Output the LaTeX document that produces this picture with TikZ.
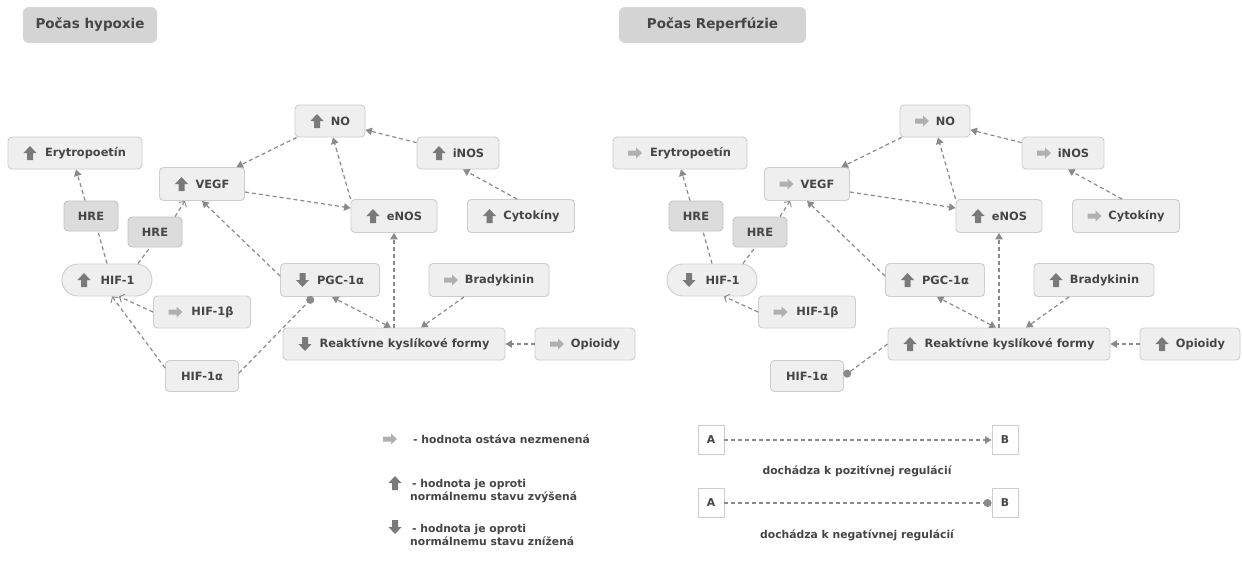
\documentclass[tikz,border=0pt]{standalone}
\usepackage{fontspec}
\setmainfont{DejaVu Sans}
\usetikzlibrary{arrows.meta,calc}
\definecolor{boxfill}{HTML}{EFEFEF}
\definecolor{boxline}{HTML}{CDCDCD}
\definecolor{hrefill}{HTML}{DCDCDC}
\definecolor{hreline}{HTML}{C4C4C4}
\definecolor{titlefill}{HTML}{D4D4D4}
\definecolor{txt}{HTML}{454545}
\definecolor{edgecol}{HTML}{8A8A8A}
\definecolor{icdark}{HTML}{7A7A7A}
\definecolor{iclight}{HTML}{B0B0B0}
\tikzset{
  upic/.pic={\fill[icdark, sharp corners] (0,-7) -- (6.5,0) -- (3,0) -- (3,7) -- (-3,7) -- (-3,0) -- (-6.5,0) -- cycle;},
  dnic/.pic={\fill[icdark, sharp corners] (0,7) -- (6.5,0) -- (3,0) -- (3,-7) -- (-3,-7) -- (-3,0) -- (-6.5,0) -- cycle;},
  rtic/.pic={\fill[iclight, sharp corners] (7,0) -- (1,-5.5) -- (1,-2.5) -- (-7,-2.5) -- (-7,2.5) -- (1,2.5) -- (1,5.5) -- cycle;},
  box/.style={draw=boxline, fill=boxfill, line width=0.9pt, rounded corners=4pt,
    minimum height=32pt, inner xsep=6pt, text=txt,
    font=\bfseries\fontsize{11.4}{13}\selectfont},
  ibox/.style={box, execute at begin node={\hspace*{21pt}}},
  iup/.style={ibox, path picture={\pic at ($(path picture bounding box.west)+(22,0)$) {upic};}},
  idn/.style={ibox, path picture={\pic at ($(path picture bounding box.west)+(22,0)$) {dnic};}},
  irt/.style={ibox, path picture={\pic at ($(path picture bounding box.west)+(22,0)$) {rtic};}},
  hrebox/.style={box, fill=hrefill, draw=hreline, minimum height=30pt},
  titlebox/.style={draw=none, fill=titlefill, rounded corners=6pt, minimum height=36pt,
    text=txt, font=\bfseries\fontsize{13.5}{16}\selectfont},
  eplain/.style={draw=edgecol, line width=1.2pt, dash pattern=on 4pt off 3pt},
  e/.style={eplain, -{Triangle[length=6.5pt,width=7.5pt]}},
  ebi/.style={eplain, {Triangle[length=6.5pt,width=7.5pt]}-{Triangle[length=6.5pt,width=7.5pt]}},
  eopen/.style={eplain, -{Straight Barb[length=4pt,width=9pt,line width=0.9pt]}},
  eneg/.style={eplain, -{Circle[length=8pt]}},
  lbox/.style={draw=boxline, fill=white, line width=0.9pt, minimum width=26pt, minimum height=29pt,
    text=txt, font=\bfseries\fontsize{10.8}{13}\selectfont},
  ltext/.style={text=txt, font=\bfseries\fontsize{10.8}{13}\selectfont, align=left, inner sep=0pt},
}
\begin{document}
\begin{tikzpicture}[x=1pt,y=-1pt]
\useasboundingbox[fill=white] (0,0) rectangle (1242,565);

% titles
\node[titlebox, minimum width=134pt] (T1) at (90,25) {Počas hypoxie};
\node[titlebox, minimum width=187pt] (T2) at (712.5,25) {Počas Reperfúzie};

% ---------------- left diagram ----------------
\node[iup, minimum width=134pt] (L-ery) at (75,153) {Erytropoetín};
\node[iup, minimum width=70pt] (L-no) at (330,121) {NO};
\node[iup, minimum width=85pt, minimum height=33pt] (L-vegf) at (202,184) {VEGF};
\node[hrebox, minimum width=54pt] (L-hre1) at (91,216) {HRE};
\node[hrebox, minimum width=54pt] (L-hre2) at (155,232) {HRE};
\node[iup, minimum width=82pt] (L-inos) at (458,153) {iNOS};
\node[iup, minimum width=86pt, minimum height=33pt] (L-enos) at (394,216) {eNOS};
\node[iup, minimum width=107pt, minimum height=33pt] (L-cyt) at (521,216) {Cytokíny};
\node[iup, minimum width=90pt, rounded corners=16pt] (L-hif1) at (107,280) {HIF-1};
\node[idn, minimum width=99pt, minimum height=33pt] (L-pgc) at (330,280) {PGC-1α};
\node[irt, minimum width=120pt, minimum height=33pt] (L-brad) at (489,280) {Bradykinin};
\node[irt, minimum width=97pt] (L-hif1b) at (202,312) {HIF-1β};
\node[idn, minimum width=222pt] (L-rk) at (394,344) {Reaktívne kyslíkové formy};
\node[irt, minimum width=100pt] (L-opi) at (585,344) {Opioidy};
\node[box, minimum width=73pt, minimum height=31pt] (L-hif1a) at (202,376) {HIF-1α};

\draw[e] (L-no) -- (L-vegf);
\draw[e] (L-inos) -- (L-no);
\draw[e] ($(L-cyt.north)+(-4,0)$) -- ($(L-inos.south)+(5,0)$);
\draw[e] (L-enos.north west) -- ($(L-no.south)+(3,0)$);
\draw[e] ($(L-vegf.east)+(0,8)$) -- ($(L-enos.west)+(0,-8)$);
\draw[e] (L-rk.north) -- (L-enos.south);
\draw[e] ($(L-pgc.west)+(0,-4)$) -- (L-vegf.south);
\draw[ebi] ($(L-rk.north)+(-3,0)$) -- ($(L-pgc.south)+(2,0)$);
\draw[e] ($(L-brad.south)+(-25,0)$) -- ($(L-rk.north)+(27,0)$);
\draw[e] (L-opi) -- (L-rk);
\draw[eneg] ($(L-hif1a.east)+(0,-3)$) -- ($(L-pgc.south)+(-17,0)$);
\draw[eopen] ($(L-hif1a.west)+(0,-8)$) -- ($(L-hif1.south)+(5,0)$);
\draw[eopen] (L-hif1b.west) -- ($(L-hif1.south)+(12,0)$);
\draw[eplain] (L-hif1.north) -- ($(L-hre1.south)+(7,0)$);
\draw[e] ($(L-hre1.north)+(-6,0)$) -- ($(L-ery.south)+(1,0)$);
\draw[eplain] ($(L-hif1.north)+(31,0)$) -- ($(L-hre2.south)+(-5,0)$);
\draw[eopen] ($(L-hre2.north)+(20,0)$) -- ($(L-vegf.south west)+(26,0)$);

% ---------------- right diagram ----------------
\begin{scope}[shift={(605,0)}]
\node[irt, minimum width=134pt] (R-ery) at (75,153) {Erytropoetín};
\node[irt, minimum width=70pt] (R-no) at (330,121) {NO};
\node[irt, minimum width=85pt, minimum height=33pt] (R-vegf) at (202,184) {VEGF};
\node[hrebox, minimum width=54pt] (R-hre1) at (91,216) {HRE};
\node[hrebox, minimum width=54pt] (R-hre2) at (155,232) {HRE};
\node[irt, minimum width=82pt] (R-inos) at (458,153) {iNOS};
\node[iup, minimum width=86pt, minimum height=33pt] (R-enos) at (394,216) {eNOS};
\node[irt, minimum width=107pt, minimum height=33pt] (R-cyt) at (521,216) {Cytokíny};
\node[idn, minimum width=90pt, rounded corners=16pt] (R-hif1) at (107,280) {HIF-1};
\node[iup, minimum width=99pt, minimum height=33pt] (R-pgc) at (330,280) {PGC-1α};
\node[iup, minimum width=120pt, minimum height=33pt] (R-brad) at (489,280) {Bradykinin};
\node[irt, minimum width=97pt] (R-hif1b) at (202,312) {HIF-1β};
\node[iup, minimum width=222pt] (R-rk) at (394,344) {Reaktívne kyslíkové formy};
\node[iup, minimum width=100pt] (R-opi) at (585,344) {Opioidy};
\node[box, minimum width=73pt, minimum height=31pt] (R-hif1a) at (202,376) {HIF-1α};
\end{scope}

\draw[e] (R-no) -- (R-vegf);
\draw[e] (R-inos) -- (R-no);
\draw[e] ($(R-cyt.north)+(-4,0)$) -- ($(R-inos.south)+(5,0)$);
\draw[e] (R-enos.north west) -- ($(R-no.south)+(3,0)$);
\draw[e] ($(R-vegf.east)+(0,8)$) -- ($(R-enos.west)+(0,-8)$);
\draw[e] (R-rk.north) -- (R-enos.south);
\draw[e] ($(R-pgc.west)+(0,-4)$) -- (R-vegf.south);
\draw[ebi] ($(R-rk.north)+(-3,0)$) -- ($(R-pgc.south)+(2,0)$);
\draw[e] ($(R-brad.south)+(-25,0)$) -- ($(R-rk.north)+(27,0)$);
\draw[e] (R-opi) -- (R-rk);
\draw[eneg] (R-rk.west) -- (R-hif1a.east);
\draw[eopen] (R-hif1b.west) -- ($(R-hif1.south)+(12,0)$);
\draw[eplain] (R-hif1.north) -- ($(R-hre1.south)+(7,0)$);
\draw[e] ($(R-hre1.north)+(-6,0)$) -- ($(R-ery.south)+(1,0)$);
\draw[eplain] ($(R-hif1.north)+(31,0)$) -- ($(R-hre2.south)+(-5,0)$);
\draw[eopen] ($(R-hre2.north)+(20,0)$) -- ($(R-vegf.south west)+(26,0)$);

% ---------------- legend ----------------
\pic at (390,439) {rtic};
\node[ltext, anchor=west] (lg1) at (413,439) {- hodnota ostáva nezmenená};
\pic at (395,483) {upic};
\node[ltext, anchor=west] (lg2) at (410,491) {\hspace*{2pt}- hodnota je oproti\\normálnemu stavu zvýšená};
\pic at (395,527) {dnic};
\node[ltext, anchor=west] (lg3) at (410,535) {\hspace*{2pt}- hodnota je oproti\\normálnemu stavu znížená};

\node[lbox] (A1) at (711,440) {A};
\node[lbox] (B1) at (1005,440) {B};
\draw[e] (A1) -- (B1);
\node[ltext] (lt1) at (857,471) {dochádza k pozitívnej regulácií};
\node[lbox] (A2) at (711,503) {A};
\node[lbox] (B2) at (1005,503) {B};
\draw[eneg] (A2) -- (B2);
\node[ltext] (lt2) at (857,535) {dochádza k negatívnej regulácií};
\end{tikzpicture}
\end{document}
